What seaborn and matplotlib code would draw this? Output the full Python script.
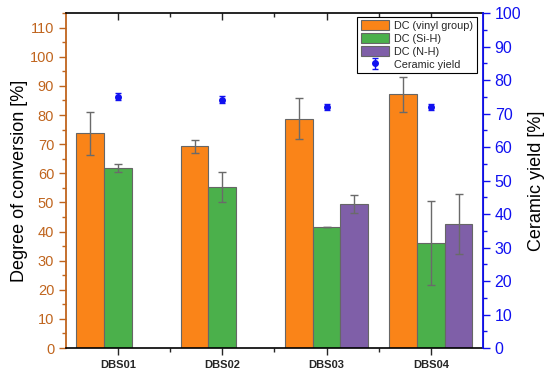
import numpy as np
import pandas as pd
import matplotlib
matplotlib.use("Agg")
import matplotlib.pyplot as plt
from matplotlib.ticker import MultipleLocator, FixedLocator
from matplotlib.patches import Patch
import seaborn as sns

samples = ["DBS01", "DBS02", "DBS03", "DBS04"]
series = ["DC (vinyl group)", "DC (Si-H)", "DC (N-H)"]
dc_vinyl = [73.8, 69.2, 78.8, 87.1]
dc_vinyl_err = [7.4, 2.2, 7.0, 6.0]
dc_sih = [61.8, 55.2, 41.6, 36.0]
dc_sih_err = [1.4, 5.2, 0.1, 14.5]
dc_nh = [np.nan, np.nan, 49.3, 42.5]
dc_nh_err = [np.nan, np.nan, 3.1, 10.3]
ceramic_yield = [75.0, 74.1, 72.0, 72.0]
ceramic_yield_err = [1.0, 1.0, 1.0, 1.0]

colors = ["#FA8418", "#4BB04B", "#7F5FA8"]
left_color = "#C0651E"
right_color = "#1010F0"

sns.set_style("white")
plt.rcParams["font.family"] = ["Liberation Sans", "DejaVu Sans"]

df = pd.DataFrame({
    "sample": samples * 3,
    "series": [s for s in series for _ in samples],
    "value": dc_vinyl + dc_sih + dc_nh,
    "err": dc_vinyl_err + dc_sih_err + dc_nh_err,
})

fig = plt.figure(figsize=(5.5, 3.74), dpi=100)
ax = fig.add_axes([0.12, 0.0695, 0.758, 0.8955])

sns.barplot(data=df, x="sample", y="value", hue="series", hue_order=series,
            palette=colors, width=0.8, edgecolor="#666666", linewidth=0.8,
            errorbar=None, legend=False, ax=ax, saturation=1)

n = len(samples)
for k, s in enumerate(series):
    sub = df[df["series"] == s].reset_index(drop=True)
    offs = (k - 1) * 0.8 / 3
    xs = np.arange(n) + offs
    ax.errorbar(xs, sub["value"], yerr=sub["err"], fmt="none",
                ecolor="#6A6A6A", elinewidth=1.0, capsize=3, capthick=1.0, zorder=5)

ax.set_xlim(-0.5, 3.5)
ax.set_ylim(0, 115)
ax.yaxis.set_major_locator(MultipleLocator(10))
ax.yaxis.set_minor_locator(MultipleLocator(5))
ax.xaxis.set_minor_locator(FixedLocator([0.5, 1.5, 2.5]))
ax.set_xlabel("")
ax.set_ylabel("Degree of conversion [%]", fontsize=13, color="black", labelpad=1)
ax.tick_params(axis="y", which="major", direction="out", length=5, width=1,
               colors=left_color, labelsize=10.5, left=True)
ax.tick_params(axis="y", which="minor", direction="out", length=3, width=1,
               color=left_color, left=True)
ax.tick_params(axis="x", which="major", direction="out", length=5, width=1,
               labelsize=8, bottom=True, top=True)
ax.tick_params(axis="x", which="minor", direction="out", length=3, width=1,
               bottom=True, top=True)
for lab in ax.get_xticklabels():
    lab.set_fontweight("bold")
ax.spines["left"].set_color(left_color)
ax.spines["left"].set_linewidth(1.3)
for sp in ["bottom", "top"]:
    ax.spines[sp].set_linewidth(1.2)
    ax.spines[sp].set_color("black")

for t in ax.xaxis.get_major_ticks():
    t.tick2line.set_marker(3)
    t.tick2line.set_markersize(5)
for t in ax.xaxis.get_minor_ticks():
    t.tick2line.set_marker(3)
    t.tick2line.set_markersize(3)

ax2 = ax.twinx()
eb = ax2.errorbar(np.arange(n), ceramic_yield, yerr=ceramic_yield_err, fmt="o",
                  color=right_color, markersize=4, ecolor=right_color,
                  elinewidth=1, capsize=2.5, capthick=1, label="Ceramic yield")
ax2.set_ylim(0, 100)
ax2.yaxis.set_major_locator(MultipleLocator(10))
ax2.yaxis.set_minor_locator(MultipleLocator(5))
ax2.set_ylabel("Ceramic yield [%]", fontsize=13, color="black", labelpad=5)
ax2.tick_params(axis="y", which="major", direction="out", length=5, width=1,
                colors=right_color, labelsize=11.5, right=True)
ax2.tick_params(axis="y", which="minor", direction="out", length=3, width=1,
                color=right_color, right=True)
ax2.spines["right"].set_color(right_color)
ax2.spines["right"].set_linewidth(1.3)
ax2.spines["left"].set_visible(False)
ax2.spines["top"].set_visible(False)
ax2.spines["bottom"].set_visible(False)

handles = [Patch(facecolor=c, edgecolor="#666666", linewidth=0.8, label=s)
           for c, s in zip(colors, series)]
handles.append(eb)
leg = ax2.legend(handles=handles, loc="upper right", bbox_to_anchor=(0.99, 0.995),
                 fontsize=7.8, frameon=True, fancybox=False, edgecolor="black",
                 framealpha=1, borderpad=0.3, labelspacing=0.22,
                 handlelength=2.6, handleheight=1.0, handletextpad=0.5,
                 borderaxespad=0.2)
leg.get_frame().set_linewidth(0.8)

fig.savefig("out.png", dpi=100)
